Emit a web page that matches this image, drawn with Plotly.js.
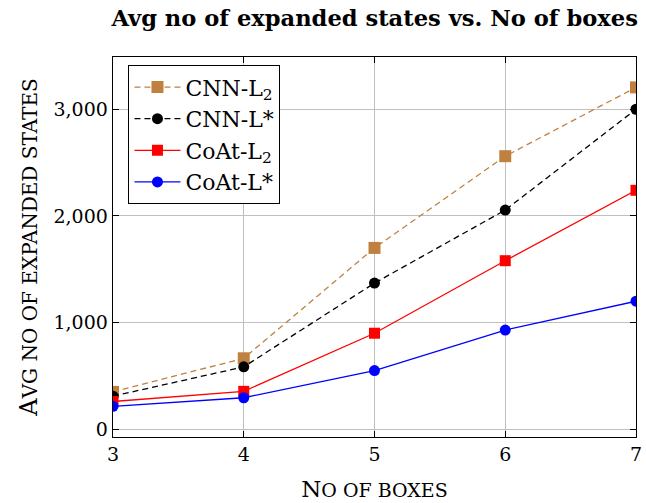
<!DOCTYPE html>
<html>
<head>
<meta charset="utf-8">
<script src="https://cdn.plot.ly/plotly-3.0.1.min.js"></script>
<style>html,body{margin:0;padding:0;background:#fff;}#chart{width:646px;height:503px;}</style>
</head>
<body>
<div id="chart"></div>
<script>
var boxes = [3, 4, 5, 6, 7];
var cnnL2 = [350, 665, 1700, 2560, 3205];
var cnnLstar = [310, 585, 1370, 2055, 3000];
var coatL2 = [260, 355, 900, 1580, 2240];
var coatLstar = [215, 295, 550, 930, 1200];
var seriesNames = ['CNN-L<sub>2</sub>', 'CNN-L*', 'CoAt-L<sub>2</sub>', 'CoAt-L*'];
var xTickVals = [3, 4, 5, 6, 7];
var yTickVals = [0, 1000, 2000, 3000];
var yTickText = ['0', '1,000', '2,000', '3,000'];

var serif = 'DejaVu Serif, Liberation Serif, serif';
var brown = '#bf8040';

function tr(y, name, color, dash, symbol, msize) {
  return {
    x: boxes, y: y, name: name, type: 'scatter', mode: 'lines+markers',
    line: {color: color, width: 1.3, dash: dash},
    marker: {color: color, symbol: symbol, size: msize}
  };
}

var data = [
  tr(cnnL2, seriesNames[0], brown, '6px,4px', 'square', 12),
  tr(cnnLstar, seriesNames[1], '#000000', '6px,4px', 'circle', 11),
  tr(coatL2, seriesNames[2], '#ff0000', 'solid', 'square', 11),
  tr(coatLstar, seriesNames[3], '#0000ff', 'solid', 'circle', 11)
];

var layout = {
  width: 646, height: 503,
  margin: {l: 113, r: 10, t: 57, b: 66},
  paper_bgcolor: '#fff', plot_bgcolor: '#fff',
  font: {family: serif, color: '#000', size: 18},
  title: {
    text: '<b>Avg no of expanded states vs. No of boxes</b>',
    font: {family: serif, size: 22.6, color: '#000'},
    x: 0.58, xanchor: 'center', y: 0.965, yanchor: 'middle'
  },
  xaxis: {
    range: [3, 7], tickvals: xTickVals, ticktext: xTickVals.map(String),
    showgrid: true, gridcolor: '#bfbfbf', gridwidth: 1,
    showline: true, linecolor: '#000', linewidth: 1.3, mirror: 'ticks',
    ticks: 'inside', ticklen: 6, tickcolor: '#000',
    zeroline: false,
    tickfont: {family: serif, size: 19},
    title: {text: 'N<span style="font-size:19px">O OF BOXES</span>', font: {family: serif, size: 23}, standoff: 16}
  },
  yaxis: {
    range: [-73, 3490], tickvals: yTickVals, ticktext: yTickText,
    showgrid: true, gridcolor: '#bfbfbf', gridwidth: 1,
    showline: true, linecolor: '#000', linewidth: 1.3, mirror: 'ticks',
    ticks: 'inside', ticklen: 6, tickcolor: '#000',
    zeroline: false,
    tickfont: {family: serif, size: 19},
    title: {text: 'A<span style="font-size:20px">VG NO OF EXPANDED STATES</span>', font: {family: serif, size: 24}, standoff: 9}
  },
  showlegend: true,
  legend: {
    x: 0.029, y: 0.979, xanchor: 'left', yanchor: 'top',
    bgcolor: '#fff', bordercolor: '#000', borderwidth: 1.3,
    font: {family: serif, size: 22, color: '#000'},
    itemwidth: 46,
    tracegroupgap: 0
  }
};

Plotly.newPlot('chart', data, layout, {displayModeBar: false, staticPlot: true});
</script>
</body>
</html>
